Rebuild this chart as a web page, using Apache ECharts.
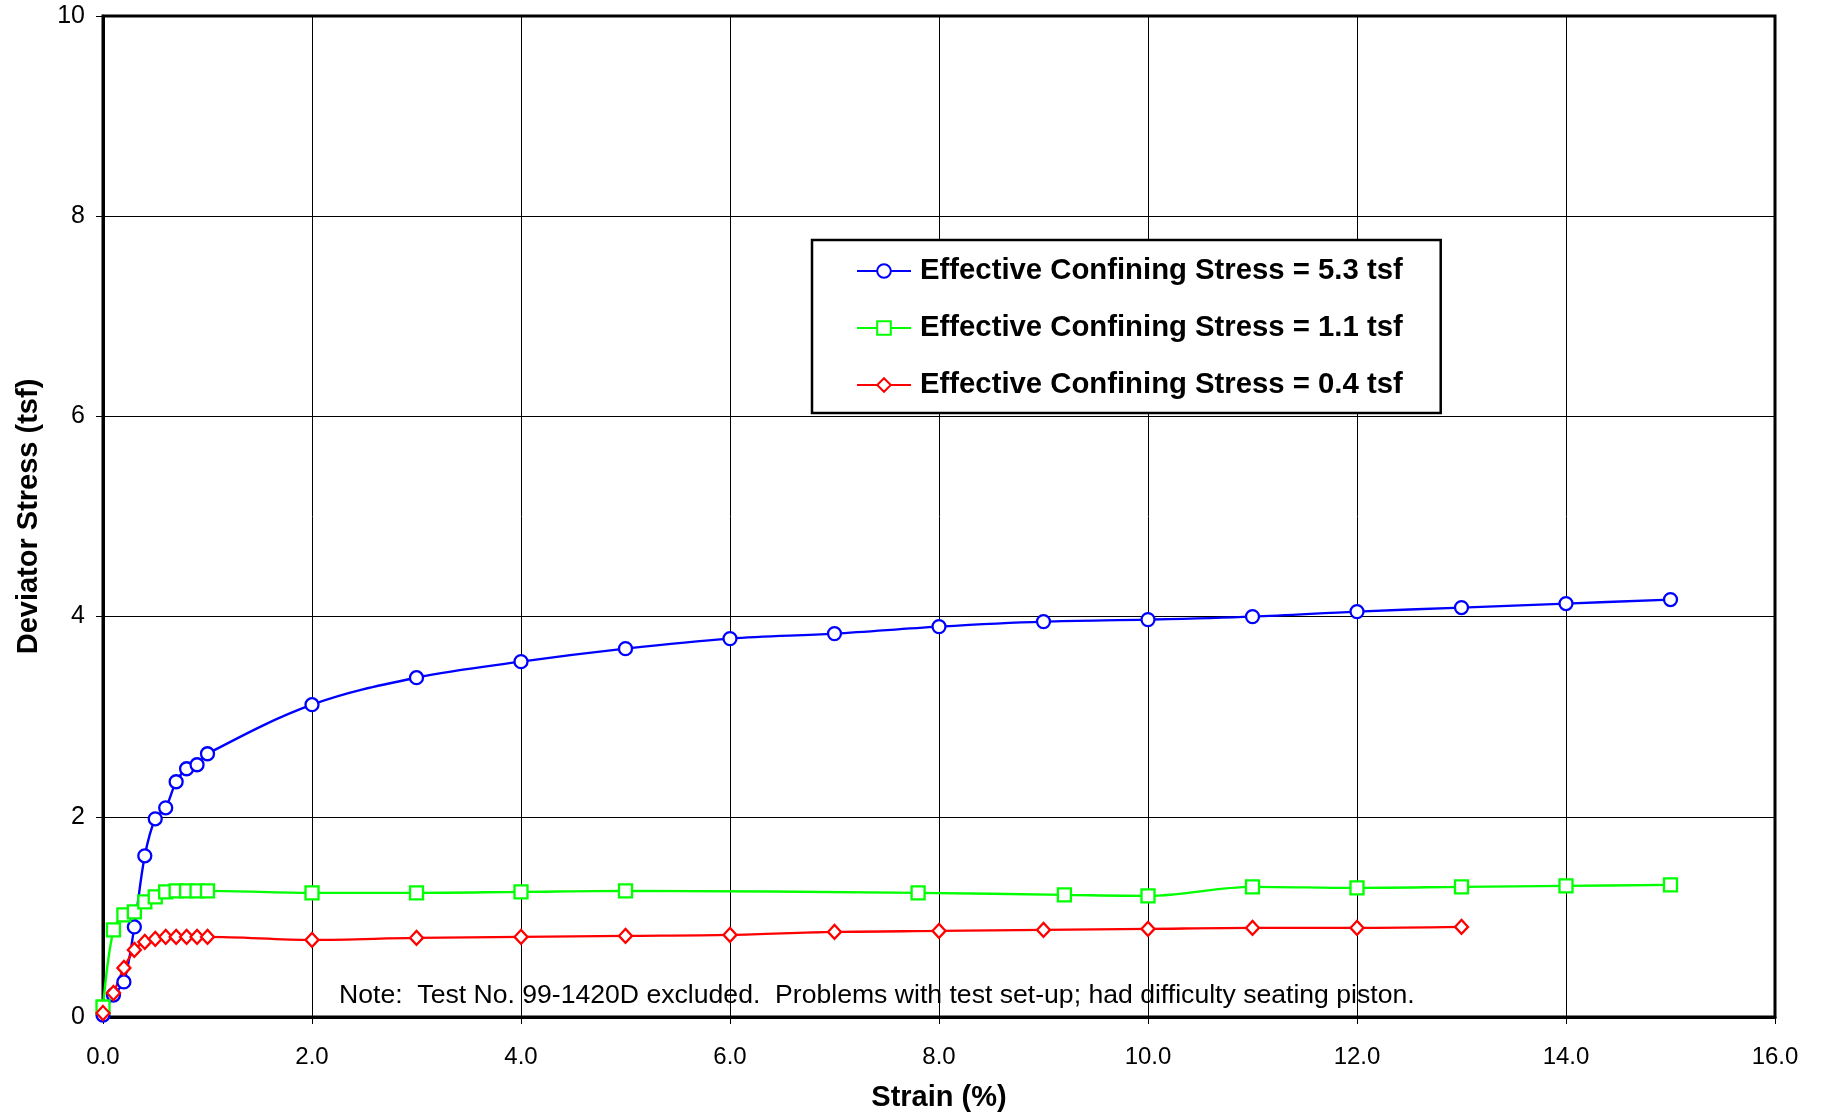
<!DOCTYPE html>
<html>
<head>
<meta charset="utf-8">
<script src="https://cdn.jsdelivr.net/npm/echarts@6/dist/echarts.min.js"></script>
<style>
html,body{margin:0;padding:0;background:#fff;}
#chart{width:1822px;height:1113px;}
</style>
</head>
<body>
<div id="chart"></div>
<script>
// Data
const seriesNames = [
  'Effective Confining Stress = 5.3 tsf',
  'Effective Confining Stress = 1.1 tsf',
  'Effective Confining Stress = 0.4 tsf'
];
const strainHigh = [0, 0.1, 0.2, 0.3, 0.4, 0.5, 0.6, 0.7, 0.8, 0.9, 1.0, 2.0, 3.0, 4.0, 5.0, 6.0, 7.0, 8.0, 9.0, 10.0, 11.0, 12.0, 13.0, 14.0, 15.0];
const stressHigh = [0.02, 0.22, 0.35, 0.90, 1.61, 1.98, 2.09, 2.35, 2.48, 2.52, 2.63, 3.12, 3.39, 3.55, 3.68, 3.78, 3.83, 3.90, 3.95, 3.97, 4.00, 4.05, 4.09, 4.13, 4.17];

const strainMid = [0, 0.1, 0.2, 0.3, 0.4, 0.5, 0.6, 0.7, 0.8, 0.9, 1.0, 2.0, 3.0, 4.0, 5.0, 7.8, 9.2, 10.0, 11.0, 12.0, 13.0, 14.0, 15.0];
const stressMid = [0.10, 0.87, 1.02, 1.05, 1.15, 1.20, 1.25, 1.26, 1.26, 1.26, 1.26, 1.24, 1.24, 1.25, 1.26, 1.24, 1.22, 1.21, 1.30, 1.29, 1.30, 1.31, 1.32];

const strainLow = [0, 0.1, 0.2, 0.3, 0.4, 0.5, 0.6, 0.7, 0.8, 0.9, 1.0, 2.0, 3.0, 4.0, 5.0, 6.0, 7.0, 8.0, 9.0, 10.0, 11.0, 12.0, 13.0];
const stressLow = [0.04, 0.24, 0.49, 0.67, 0.75, 0.78, 0.80, 0.80, 0.80, 0.80, 0.80, 0.77, 0.79, 0.80, 0.81, 0.82, 0.85, 0.86, 0.87, 0.88, 0.89, 0.89, 0.90];

const xTicks = [0, 2, 4, 6, 8, 10, 12, 14, 16];
const yTicks = [0, 2, 4, 6, 8, 10];
const noteText = 'Note:  Test No. 99-1420D excluded.  Problems with test set-up; had difficulty seating piston.';
const xTitle = 'Strain (%)';
const yTitle = 'Deviator Stress (tsf)';

const FONT = "'Liberation Sans', Arial, sans-serif";
function pairs(xs, ys){ return xs.map((x,i)=>[x, ys[i]]); }

const chart = echarts.init(document.getElementById('chart'), null, {renderer:'canvas'});
const mk = (name, xs, ys, color, symbol, size) => ({
  name, type:'line', data: pairs(xs, ys),
  smooth: 0.35,
  symbol, symbolSize: size, showAllSymbol:true,
  lineStyle:{color, width:2.4},
  itemStyle:{color:'#fff', borderColor:color, borderWidth:2.3},
  emphasis:{disabled:true},
  animation:false, z:3
});

chart.setOption({
  backgroundColor:'#fff',
  animation:false,
  textStyle:{fontFamily:FONT},
  grid:{left:103, right:47, top:16, bottom:96, containLabel:false, outerBoundsMode:'none',
        show:true, borderColor:'#000', borderWidth:3, backgroundColor:'#fff'},
  xAxis:{
    type:'value', min:xTicks[0], max:xTicks[xTicks.length-1], interval:2,
    name:xTitle, nameLocation:'middle', nameGap:66,
    nameTextStyle:{fontFamily:FONT, fontSize:29, fontWeight:'bold', color:'#000'},
    axisLine:{show:true, lineStyle:{color:'#000', width:3}},
    axisTick:{show:true, inside:false, length:7, lineStyle:{color:'#000', width:1}},
    axisLabel:{fontFamily:FONT, fontSize:24, color:'#000', margin:28, formatter:v=>v.toFixed(1)},
    splitLine:{show:true, lineStyle:{color:'#000', width:1}}
  },
  yAxis:{
    type:'value', min:yTicks[0], max:yTicks[yTicks.length-1], interval:2,
    name:yTitle, nameLocation:'middle', nameGap:60, nameRotate:90,
    nameTextStyle:{fontFamily:FONT, fontSize:29, fontWeight:'bold', color:'#000'},
    axisLine:{show:true, lineStyle:{color:'#000', width:3}},
    axisTick:{show:true, inside:false, length:7, lineStyle:{color:'#000', width:1}},
    axisLabel:{fontFamily:FONT, fontSize:25, color:'#000', margin:18},
    splitLine:{show:true, lineStyle:{color:'#000', width:1}}
  },
  legend:{
    orient:'vertical', left:812, top:240,
    data:seriesNames,
    backgroundColor:'#fff', borderColor:'#000', borderWidth:2.5,
    padding:[16, 38, 13, 44],
    itemWidth:54, itemHeight:17, itemGap:27,
    textStyle:{fontFamily:FONT, fontSize:29.3, fontWeight:'bold', color:'#000', lineHeight:30, padding:[0,0,0,4]},
    selectedMode:false
  },
  graphic:[{
    type:'text', x:339, y:996, z:10,
    style:{text:noteText, font:"26.6px 'Liberation Sans', Arial, sans-serif", fill:'#000', verticalAlign:'middle'}
  }],
  series:[
    mk(seriesNames[0], strainHigh, stressHigh, '#0000ff', 'circle', 13),
    mk(seriesNames[1], strainMid, stressMid, '#00ff00', 'rect', 13),
    mk(seriesNames[2], strainLow, stressLow, '#ff0000', 'diamond', [13,14])
  ]
});
</script>
</body>
</html>
